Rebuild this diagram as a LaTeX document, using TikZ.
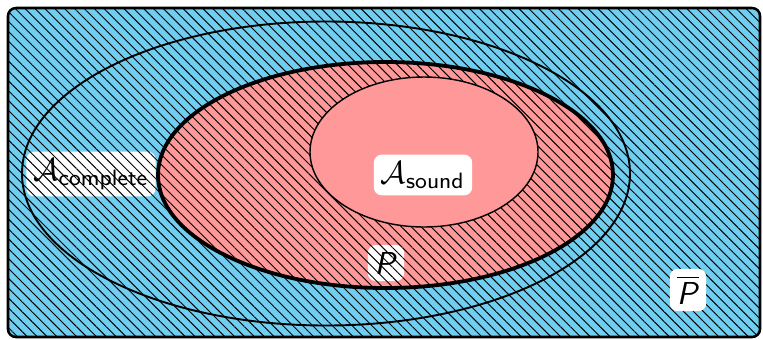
\documentclass[tikz,border=0pt]{standalone}
\usepackage{amsmath}
\usetikzlibrary{patterns.meta}
\definecolor{skyb}{RGB}{112,206,240}
\definecolor{pinkr}{RGB}{255,153,153}
\tikzset{
  hatch/.style={pattern={Lines[angle=-45,distance=2.2pt,line width=0.3pt]}},
  lbl/.style={fill=white,rounded corners=2.5pt,inner sep=2.2pt,font=\sffamily},
}
\begin{document}
\begin{tikzpicture}[x=0.315pt,y=0.315pt]
\useasboundingbox (0,0) rectangle (763,-339);
% backgrounds
\fill[skyb,rounded corners=2.5pt] (8,-8) rectangle (760,-337);
\fill[pinkr] (385.5,-175) ellipse [x radius=227.5,y radius=113];
% labels under hatching
\node[lbl] (lc) at (91,-174) {$\mathcal{A}_{\textsf{complete}}$};
\node[lbl] (lp) at (386,-263) {\textsf{\textit{P}}};
% hatching
\path[hatch,rounded corners=2.5pt] (8,-8) rectangle (760,-337);
% sound region
\filldraw[fill=pinkr,draw=black,line width=0.45pt] (424,-152) ellipse [x radius=114,y radius=75];
% outlines
\draw[line width=0.6pt] (326,-173.5) ellipse [x radius=304,y radius=152];
\draw[line width=1.2pt] (385.5,-175) ellipse [x radius=227.5,y radius=113];
\draw[line width=0.8pt,rounded corners=2.5pt] (8,-8) rectangle (760,-337);
% labels over hatching
\node[lbl] (ls) at (423,-175) {$\mathcal{A}_{\textsf{sound}}$};
\node[lbl] (lq) at (688,-290) {$\overline{\textsf{\textit{P}}}$};
\end{tikzpicture}
\end{document}
